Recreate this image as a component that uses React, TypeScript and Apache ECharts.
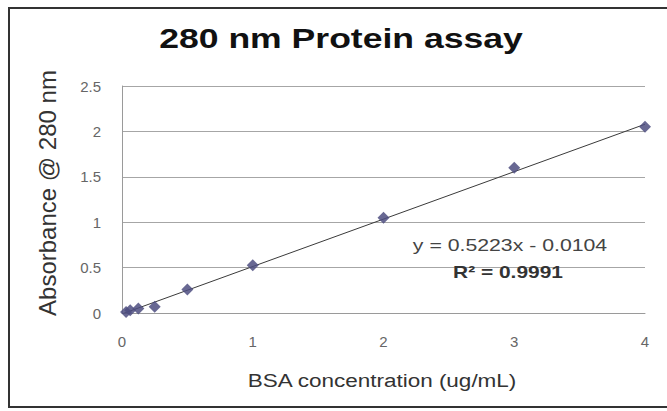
import React, { useEffect, useRef } from "react";
import * as echarts from "echarts";

// Data
const concentrations = [0.03125, 0.0625, 0.125, 0.25, 0.5, 1, 2, 3, 4];
const absorbances = [0.01, 0.03, 0.05, 0.07, 0.26, 0.525, 1.05, 1.6, 2.05];
const slope = 0.5223;
const intercept = -0.0104;
const rSquared = 0.9991;
const trendX = [0, 4];
const xTicks = [0, 1, 2, 3, 4];
const yTicks = [0, 0.5, 1, 1.5, 2, 2.5];

const titleText = "280 nm Protein assay";
const xName = "BSA concentration (ug/mL)";
const yName = "Absorbance @ 280 nm";

const FONT = "'Liberation Sans', Arial, sans-serif";

export default function App() {
  const ref = useRef<HTMLDivElement>(null);

  useEffect(() => {
    document.body.style.margin = "0";
    if (!ref.current) return;
    const chart = echarts.init(ref.current, undefined, { renderer: "svg" });

    const points = concentrations.map((x, i) => [x, absorbances[i]]);
    const trend = trendX.map((x) => [x, slope * x + intercept]);
    const sign = intercept < 0 ? "-" : "+";
    const eqText = `y = ${slope.toFixed(4)}x ${sign} ${Math.abs(intercept).toFixed(4)}`;

    chart.setOption({
      animation: false,
      backgroundColor: "#ffffff",
      grid: { left: 122, right: 22, top: 86, bottom: 98, containLabel: false },
      xAxis: {
        type: "value",
        min: xTicks[0],
        max: xTicks[xTicks.length - 1],
        interval: 1,
        axisLine: { show: true, lineStyle: { color: "#9a9a9a", width: 1 } },
        axisTick: { show: false },
        splitLine: { show: false },
        axisLabel: { color: "#666666", fontSize: 15, fontFamily: FONT, margin: 21 },
      },
      yAxis: {
        type: "value",
        min: yTicks[0],
        max: yTicks[yTicks.length - 1],
        interval: 0.5,
        axisLine: { show: true, lineStyle: { color: "#9a9a9a", width: 1 } },
        axisTick: { show: false },
        splitLine: { show: true, lineStyle: { color: "#a6a6a6", width: 1 } },
        axisLabel: { color: "#666666", fontSize: 15, fontFamily: FONT, margin: 21 },
      },
      series: [
        {
          type: "line",
          data: trend,
          showSymbol: false,
          symbol: "none",
          lineStyle: { color: "#3a3a3a", width: 1 },
          z: 2,
        },
        {
          type: "scatter",
          data: points,
          symbol: "diamond",
          symbolSize: 12,
          itemStyle: { color: "#4e4e80", opacity: 0.85 },
          z: 3,
        },
      ],
      graphic: [
        {
          type: "rect",
          shape: { x: 9, y: 8, width: 700, height: 399 },
          style: { fill: "none", stroke: "#333333", lineWidth: 2 },
          silent: true,
          z: 100,
        },
        {
          type: "text",
          x: 341,
          y: 52,
          scaleX: 1.27,
          style: {
            text: titleText,
            font: `bold 28px ${FONT}`,
            fill: "#111111",
            textAlign: "center",
            textVerticalAlign: "bottom",
          },
          z: 10,
        },
        {
          type: "text",
          x: 382,
          y: 381,
          scaleX: 1.25,
          style: {
            text: xName,
            font: `18px ${FONT}`,
            fill: "#333333",
            textAlign: "center",
            textVerticalAlign: "middle",
          },
          z: 10,
        },
        {
          type: "text",
          x: 47,
          y: 193,
          rotation: Math.PI / 2,
          style: {
            text: yName,
            font: `24px ${FONT}`,
            fill: "#333333",
            textAlign: "center",
            textVerticalAlign: "middle",
          },
          z: 10,
        },
        {
          type: "text",
          x: 510,
          y: 245,
          scaleX: 1.25,
          style: {
            text: eqText,
            font: `17px ${FONT}`,
            fill: "#444444",
            textAlign: "center",
            textVerticalAlign: "middle",
          },
          z: 10,
        },
        {
          type: "text",
          x: 508,
          y: 272,
          scaleX: 1.23,
          style: {
            text: `R² = ${rSquared.toFixed(4)}`,
            font: `bold 17px ${FONT}`,
            fill: "#333333",
            textAlign: "center",
            textVerticalAlign: "middle",
          },
          z: 10,
        },
      ],
    });

    return () => chart.dispose();
  }, []);

  return (
    <div
      ref={ref}
      style={{ position: "absolute", left: 0, top: 0, width: 667, height: 411 }}
    />
  );
}
